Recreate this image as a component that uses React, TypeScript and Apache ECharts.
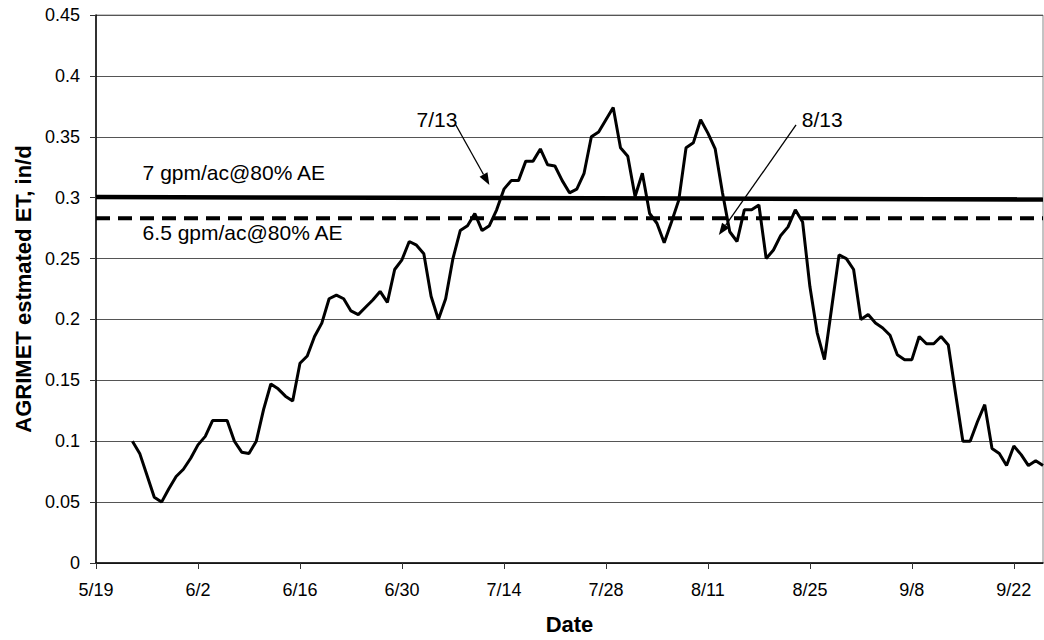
import React, { useEffect, useRef } from "react";
import * as echarts from "echarts";

// Day 0 of the x axis is 5/19; x values are day offsets from that date.
const BASE_MONTH = 5;
const BASE_DAY = 19;
const X_MAX_DAY = 130;
const X_TICK_STEP = 14;
const Y_MAX = 0.45;
const Y_STEP = 0.05;

// Daily AGRIMET estimated ET (in/d), starting at day FIRST_DAY (5/24)
const FIRST_DAY = 5;
const etValues = [
  0.1, 0.09, 0.072, 0.054, 0.05, 0.061, 0.071, 0.077, 0.086, 0.097,
  0.104, 0.117, 0.117, 0.117, 0.1, 0.091, 0.09, 0.1, 0.126, 0.147,
  0.143, 0.137, 0.133, 0.164, 0.17, 0.186, 0.197, 0.217, 0.22, 0.217,
  0.207, 0.204, 0.21, 0.216, 0.223, 0.214, 0.241, 0.249, 0.264, 0.261,
  0.254, 0.219, 0.2, 0.217, 0.25, 0.273, 0.277, 0.287, 0.273, 0.277,
  0.29, 0.307, 0.314, 0.314, 0.33, 0.33, 0.34, 0.327, 0.326, 0.314,
  0.304, 0.307, 0.32, 0.35, 0.354, 0.364, 0.374, 0.341, 0.334, 0.301,
  0.32, 0.287, 0.279, 0.263, 0.28, 0.298, 0.341, 0.345, 0.364, 0.353,
  0.34, 0.304, 0.272, 0.264, 0.29, 0.29, 0.294, 0.25, 0.257, 0.269,
  0.276, 0.29, 0.28, 0.227, 0.189, 0.167, 0.21, 0.253, 0.25, 0.241,
  0.2, 0.204, 0.197, 0.193, 0.187, 0.171, 0.167, 0.167, 0.186, 0.18,
  0.18, 0.186, 0.179, 0.139, 0.1, 0.1, 0.116, 0.13, 0.094, 0.09,
  0.08, 0.096, 0.089, 0.08, 0.084, 0.08,
];

// Reference lines (start day, end day) and values
const refLineDays = [0, 130];
const line7gpm = [0.3005, 0.2985];
const line65gpm = [0.283, 0.283];

// Annotation texts and their anchors in data coordinates [day, value]
const annoTexts = ["7 gpm/ac@80% AE", "6.5 gpm/ac@80% AE", "7/13", "8/13"];
const annoAnchors = [
  [6.4, 0.3203],
  [6.4, 0.271],
  [46.8, 0.3638],
  [99.7, 0.3638],
];
const arrowTails = [
  [49.4, 0.3597],
  [96.1, 0.3597],
];
const arrowTips = [
  [54.0, 0.3104],
  [85.5, 0.2693],
];

const FONT = '"Liberation Sans", Arial, Helvetica, sans-serif';

function dayLabel(d: number): string {
  const dt = new Date(2001, BASE_MONTH - 1, BASE_DAY + d);
  return `${dt.getMonth() + 1}/${dt.getDate()}`;
}

export default function App() {
  const ref = useRef<HTMLDivElement>(null);

  useEffect(() => {
    if (!ref.current) return;
    const chart = echarts.init(ref.current, undefined, { renderer: "svg" });

    const etData = etValues.map((v, i) => [FIRST_DAY + i, v]);
    const l7 = refLineDays.map((d, i) => [d, line7gpm[i]]);
    const l65 = refLineDays.map((d, i) => [d, line65gpm[i]]);

    chart.setOption({
      animation: false,
      backgroundColor: "#fff",
      grid: {
        left: 96,
        right: 1,
        top: 15,
        bottom: 77,
        show: true,
        borderColor: "#888",
        borderWidth: 1,
        containLabel: false,
      },
      xAxis: {
        type: "value",
        min: 0,
        max: X_MAX_DAY,
        interval: X_TICK_STEP,
        name: "Date",
        nameLocation: "middle",
        nameGap: 50,
        nameTextStyle: { fontFamily: FONT, fontWeight: "bold", fontSize: 22, color: "#000" },
        axisLine: { show: true, lineStyle: { color: "#000", width: 1.5 } },
        axisTick: { show: true, length: 6, lineStyle: { color: "#333" } },
        axisLabel: {
          showMaxLabel: false,
          margin: 18,
          fontFamily: FONT,
          fontSize: 18,
          color: "#000",
          formatter: (v: number) => (v % X_TICK_STEP === 0 ? dayLabel(v) : ""),
        },
        splitLine: { show: false },
      },
      yAxis: {
        type: "value",
        min: 0,
        max: Y_MAX,
        interval: Y_STEP,
        name: "AGRIMET estmated ET, in/d",
        nameLocation: "middle",
        nameGap: 52,
        nameTextStyle: { fontFamily: FONT, fontWeight: "bold", fontSize: 22, color: "#000" },
        axisLine: { show: true, lineStyle: { color: "#000", width: 1.5 } },
        axisTick: { show: true, length: 6, lineStyle: { color: "#333" } },
        axisLabel: {
          margin: 16,
          fontFamily: FONT,
          fontSize: 18,
          color: "#000",
          formatter: (v: number) => String(Math.round(v * 100) / 100),
        },
        splitLine: { show: true, lineStyle: { color: "#555", width: 1 } },
      },
      series: [
        {
          type: "line",
          data: l65,
          symbol: "none",
          lineStyle: { color: "#000", width: 4, type: [14, 8] },
          z: 2,
        },
        {
          type: "line",
          data: l7,
          symbol: "none",
          lineStyle: { color: "#000", width: 4.5 },
          z: 2,
        },
        {
          type: "line",
          data: etData,
          symbol: "none",
          lineStyle: { color: "#000", width: 3 },
          z: 3,
        },
      ],
    });

    const px = (p: number[]) => chart.convertToPixel({ gridIndex: 0 }, p) as number[];
    const graphics: any[] = [];
    annoTexts.forEach((t, i) => {
      const [x, y] = px(annoAnchors[i]);
      const center = i >= 2;
      graphics.push({
        type: "text",
        x,
        y,
        z: 10,
        style: {
          text: t,
          fill: "#000",
          font: `21px ${FONT}`,
          fontSize: 21,
          fontFamily: FONT,
          align: center ? "center" : "left",
          verticalAlign: "middle",
          textAlign: center ? "center" : "left",
          textVerticalAlign: "middle",
        },
      });
    });
    arrowTails.forEach((tail, i) => {
      const [x1, y1] = px(tail);
      const [x2, y2] = px(arrowTips[i]);
      const dx = x2 - x1;
      const dy = y2 - y1;
      const len = Math.sqrt(dx * dx + dy * dy);
      const ux = dx / len;
      const uy = dy / len;
      const L = 12;
      const W = 4.5;
      const bx = x2 - ux * L;
      const by = y2 - uy * L;
      graphics.push({
        type: "line",
        z: 10,
        shape: { x1, y1, x2: bx, y2: by },
        style: { stroke: "#000", lineWidth: 1.3 },
      });
      graphics.push({
        type: "polygon",
        z: 10,
        shape: {
          points: [
            [x2, y2],
            [bx - uy * W, by + ux * W],
            [bx + uy * W, by - ux * W],
          ],
        },
        style: { fill: "#000" },
      });
    });
    chart.setOption({ graphic: graphics });

    return () => chart.dispose();
  }, []);

  return (
    <div
      ref={ref}
      style={{ position: "fixed", left: 0, top: 0, width: 1044, height: 640, background: "#fff" }}
    />
  );
}
